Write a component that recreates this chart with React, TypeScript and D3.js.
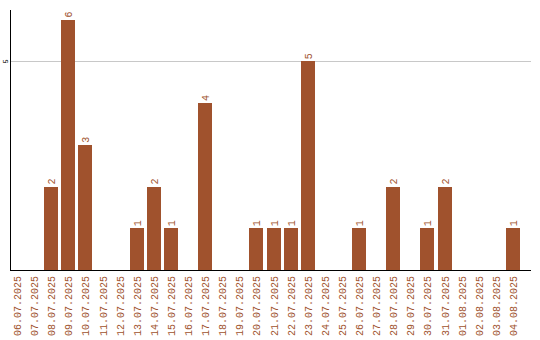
import React from "react";
import * as d3 from "d3";

const dates = [
  "06.07.2025", "07.07.2025", "08.07.2025", "09.07.2025", "10.07.2025",
  "11.07.2025", "12.07.2025", "13.07.2025", "14.07.2025", "15.07.2025",
  "16.07.2025", "17.07.2025", "18.07.2025", "19.07.2025", "20.07.2025",
  "21.07.2025", "22.07.2025", "23.07.2025", "24.07.2025", "25.07.2025",
  "26.07.2025", "27.07.2025", "28.07.2025", "29.07.2025", "30.07.2025",
  "31.07.2025", "01.08.2025", "02.08.2025", "03.08.2025", "04.08.2025",
];
const counts = [
  0, 0, 2, 6, 3,
  0, 0, 1, 2, 1,
  0, 4, 0, 0, 1,
  1, 1, 5, 0, 0,
  1, 0, 2, 0, 1,
  2, 0, 0, 0, 1,
];
const yTicks = [5];

const W = 540;
const H = 340;
const left = 10;
const right = 531;
const top = 10;
const bottom = 270;
const step = 17;
const BAR = "#a0522d";
const FONT = "'Liberation Mono', monospace";

export default function App() {
  const x = d3
    .scaleBand<string>()
    .domain(dates)
    .range([left, left + step * dates.length])
    .paddingInner(3 / 17)
    .paddingOuter(0)
    .align(0);
  const y = d3.scaleLinear().domain([0, 6.23]).range([bottom, top]);
  const bw = 14;

  return (
    <svg
      width={W}
      height={H}
      style={{ position: "absolute", left: 0, top: 0 }}
      shapeRendering="crispEdges"
    >
      <rect width={W} height={H} fill="#fff" />
      {yTicks.map((t) => (
        <g key={t}>
          <line x1={left} x2={right} y1={Math.round(y(t)) + 0.5} y2={Math.round(y(t)) + 0.5} stroke="#c8c8c8" />
          <text
            transform={`translate(8,${y(t)}) rotate(-90)`}
            textAnchor="middle"
            fontFamily={FONT}
            fontSize={7}
            fill="#000"
          >
            {t}
          </text>
        </g>
      ))}
      {dates.map((d, i) => {
        const x0 = (x(d) ?? 0);
        const v = counts[i];
        const cx = x0 + bw / 2;
        return (
          <g key={d}>
            {v > 0 && (
              <>
                <rect x={x0} y={y(v)} width={bw} height={bottom - y(v)} fill={BAR} />
                <text
                  transform={`translate(${cx + 4},${y(v) - 2}) rotate(-90)`}
                  textAnchor="start"
                  fontFamily={FONT}
                  fontSize={10}
                  fill={BAR}
                >
                  {v}
                </text>
              </>
            )}
            <text
              transform={`translate(${cx + 4},276) rotate(-90)`}
              textAnchor="end"
              fontFamily={FONT}
              fontSize={10}
              fill={BAR}
            >
              {d}
            </text>
          </g>
        );
      })}
      <line x1={left + 0.5} x2={left + 0.5} y1={top} y2={bottom} stroke="#000" />
      <line x1={left} x2={right} y1={bottom + 0.5} y2={bottom + 0.5} stroke="#000" />
    </svg>
  );
}
